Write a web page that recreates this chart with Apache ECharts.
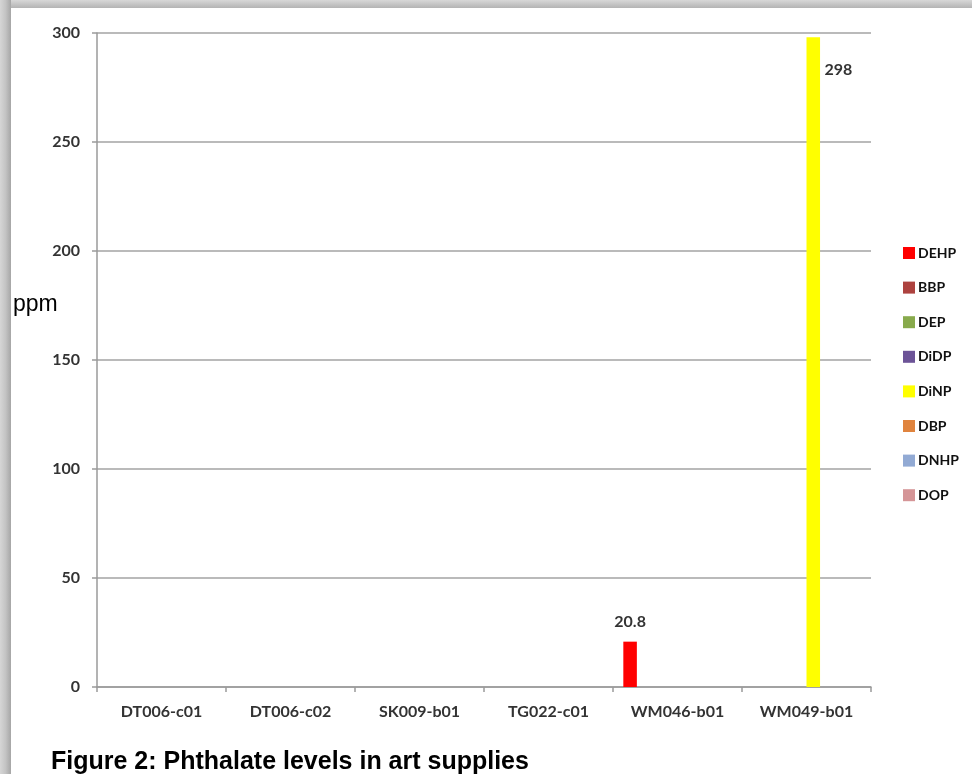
<!DOCTYPE html>
<html>
<head>
<meta charset="utf-8">
<script src="https://cdn.jsdelivr.net/npm/echarts@6/dist/echarts.min.js"></script>
<style>
html,body{margin:0;padding:0;background:#fff;}
#chart{width:972px;height:774px;}
</style>
</head>
<body>
<div id="chart"></div>
<script>
var categories = ['DT006-c01','DT006-c02','SK009-b01','TG022-c01','WM046-b01','WM049-b01'];
var seriesNames = ['DEHP','BBP','DEP','DiDP','DiNP','DBP','DNHP','DOP'];
var DEHP = [0,0,0,0,20.8,0];
var BBP  = [0,0,0,0,0,0];
var DEP  = [0,0,0,0,0,0];
var DiDP = [0,0,0,0,0,0];
var DiNP = [0,0,0,0,0,298];
var DBP  = [0,0,0,0,0,0];
var DNHP = [0,0,0,0,0,0];
var DOP  = [0,0,0,0,0,0];
var yTicks = [0,50,100,150,200,250,300];

var values = [DEHP,BBP,DEP,DiDP,DiNP,DBP,DNHP,DOP];
var colors = ['#ff0000','#ad423f','#88aa4c','#6c5397','#ffff00','#e0843e','#92aad4','#d59597'];
var tickFont = {fontFamily:'Lato', fontWeight:'bold', fontSize:16, color:'#333'};

var series = seriesNames.map(function(n,i){
  var lbl = {
    show:true, position:'top', distance:12,
    fontFamily:tickFont.fontFamily, fontWeight:tickFont.fontWeight, fontSize:tickFont.fontSize, color:tickFont.color,
    formatter:function(p){return p.value ? String(p.value) : '';}
  };
  if (n === 'DiNP') { lbl.position = [18, 32]; lbl.align='left'; lbl.verticalAlign='middle'; }
  return {
    name:n, type:'bar', data:values[i], barGap:'0%', barCategoryGap:'16%',
    itemStyle:{color:colors[i]}, label:lbl, animation:false
  };
});

var chart = echarts.init(document.getElementById('chart'));
chart.setOption({
  animation:false,
  grid:{left:97, right:101, top:33, bottom:87, containLabel:false},
  legend:{
    orient:'vertical', left:898, top:241, itemWidth:12, itemHeight:12, itemGap:20.6,
    icon:'rect', data:seriesNames,
    textStyle:{fontFamily:'Lato', fontWeight:'bold', fontSize:14, color:'#111', padding:[0,0,0,-2]}
  },
  title:{
    text:'Figure 2: Phthalate levels in art supplies', left:46, top:745,
    textStyle:{fontFamily:'Liberation Sans', fontWeight:'bold', fontSize:25, color:'#000'}
  },
  xAxis:{
    type:'category', data:categories,
    axisLine:{lineStyle:{color:'#9a9a9a', width:1.5}},
    axisTick:{show:true, length:5, alignWithLabel:false, lineStyle:{color:'#9a9a9a', width:1.5}},
    axisLabel:Object.assign({margin:17, interval:0}, tickFont)
  },
  yAxis:{
    type:'value', min:0, max:300, interval:50,
    axisLine:{show:true, lineStyle:{color:'#9a9a9a', width:1.5}},
    axisTick:{show:true, length:5, lineStyle:{color:'#9a9a9a', width:1.5}},
    splitLine:{lineStyle:{color:'#a3a3a3', width:1.5}},
    axisLabel:Object.assign({margin:17, formatter:function(v){return yTicks.indexOf(v)>=0?String(v):'';}}, tickFont)
  },
  graphic:[
    {type:'rect', left:0, top:0, shape:{width:972, height:8}, style:{fill:new echarts.graphic.LinearGradient(0,0,0,1,[{offset:0,color:'#d8d8d8'},{offset:1,color:'#b4b4b4'}])}, z:10},
    {type:'rect', left:0, top:0, shape:{width:11, height:774}, style:{fill:new echarts.graphic.LinearGradient(0,0,1,0,[{offset:0,color:'#d6d6d6'},{offset:0.5,color:'#c4c4c4'},{offset:1,color:'#a6a6a6'}])}, z:11},
    {type:'text', left:13, top:293, style:{text:'ppm', font:'23px "Liberation Sans"', fill:'#000'}}
  ],
  series:series
});
</script>
</body>
</html>
